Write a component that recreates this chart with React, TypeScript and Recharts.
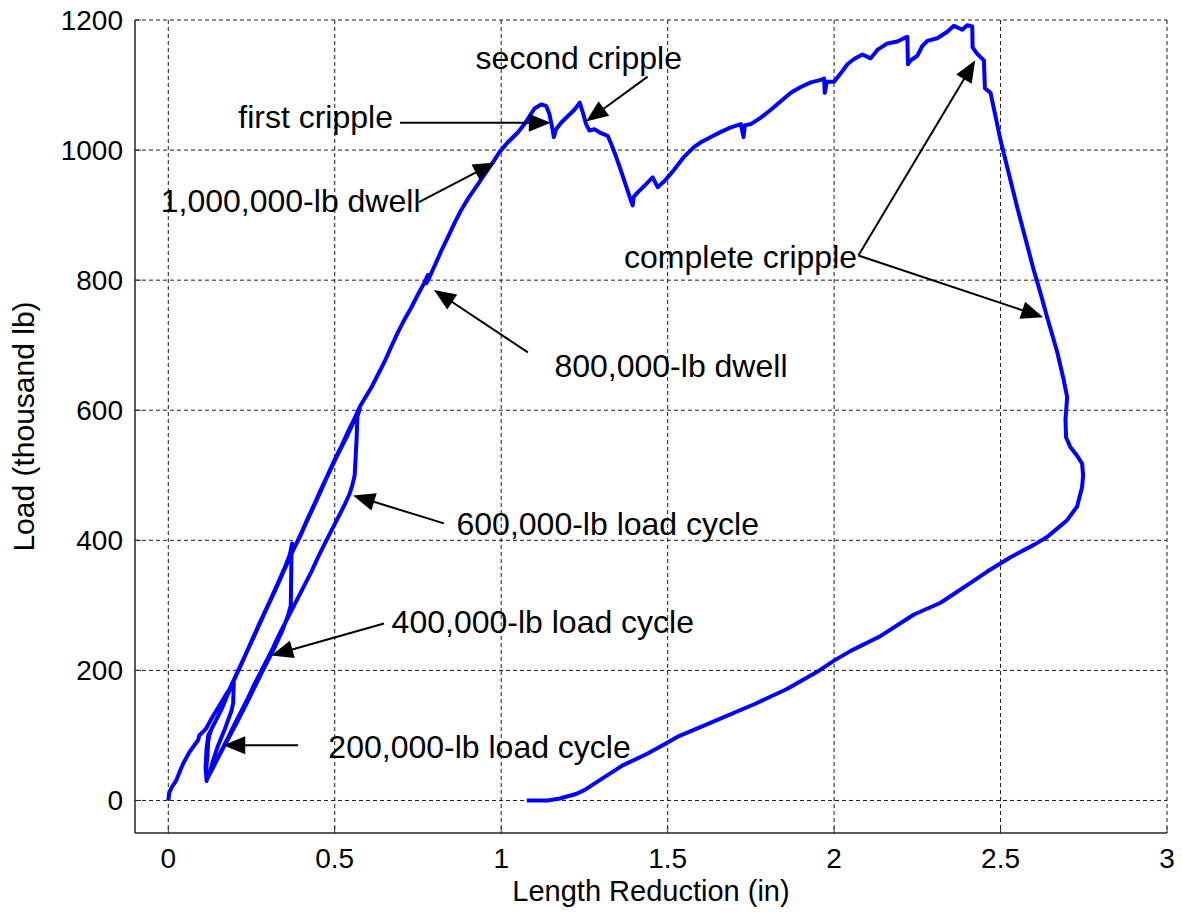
import React from 'react';
import {
  ComposedChart,
  Line,
  XAxis,
  YAxis,
  CartesianGrid,
  ReferenceLine,
  ReferenceDot,
} from 'recharts';

type Pt = [number, number];

// Length reduction (in), load (thousand lb) read from the test record, in recording order
const firstLoading: Pt[] = [
  [0, 0], [0.003, 12], [0.01, 20], [0.024, 31], [0.035, 45], [0.045, 57], [0.063, 74],
  [0.08, 86], [0.09, 93], [0.093, 100], [0.105, 106], [0.114, 111], [0.13, 126],
  [0.15, 143], [0.17, 160], [0.185, 172], [0.197, 180],
];
const firstUnloading: Pt[] = [
  [0.196, 172], [0.195, 150], [0.19, 138], [0.17, 110], [0.15, 85], [0.135, 62],
  [0.125, 45], [0.118, 35], [0.115, 30],
];
const secondLoading: Pt[] = [
  [0.113, 45], [0.118, 70], [0.12, 95], [0.13, 110], [0.15, 130], [0.17, 155],
  [0.19, 178], [0.21, 200], [0.23, 222], [0.25, 245], [0.27, 268], [0.29, 290],
  [0.31, 312], [0.33, 335], [0.35, 358], [0.365, 378], [0.372, 395],
];
const secondUnloading: Pt[] = [
  [0.37, 375], [0.369, 340], [0.368, 300], [0.36, 285], [0.34, 258], [0.32, 236],
  [0.3, 216], [0.28, 196], [0.26, 175], [0.24, 154], [0.22, 134], [0.2, 114],
  [0.18, 95], [0.16, 76], [0.14, 56], [0.125, 41], [0.115, 32],
];
const thirdLoading: Pt[] = [
  [0.112, 50], [0.115, 80], [0.12, 100], [0.135, 115], [0.155, 135], [0.175, 160],
  [0.195, 182], [0.215, 205], [0.235, 228], [0.255, 250], [0.275, 272], [0.295, 295],
  [0.315, 318], [0.335, 340], [0.355, 362], [0.375, 385], [0.395, 405], [0.415, 428],
  [0.435, 450], [0.455, 472], [0.475, 495], [0.495, 517], [0.515, 538], [0.535, 558],
  [0.555, 580], [0.57, 598], [0.575, 602],
];
const thirdUnloading: Pt[] = [
  [0.568, 590], [0.566, 560], [0.563, 530], [0.56, 500], [0.553, 485], [0.545, 472],
  [0.53, 455], [0.51, 435], [0.49, 415], [0.47, 395], [0.45, 374], [0.43, 352],
  [0.41, 332], [0.39, 312], [0.37, 292], [0.35, 272], [0.33, 252], [0.315, 235],
  [0.3, 220], [0.28, 200], [0.26, 180], [0.24, 158], [0.22, 138], [0.2, 118],
  [0.18, 97], [0.16, 77], [0.14, 56], [0.125, 42], [0.115, 33],
];
const finalLoading: Pt[] = [
  [0.113, 55], [0.118, 85], [0.125, 105], [0.14, 120], [0.16, 140], [0.18, 165],
  [0.2, 188], [0.22, 210], [0.24, 233], [0.26, 255], [0.28, 278], [0.3, 300],
  [0.32, 322], [0.34, 345], [0.36, 368], [0.38, 390], [0.4, 412], [0.42, 435],
  [0.44, 457], [0.46, 480], [0.48, 502], [0.5, 524], [0.52, 545], [0.54, 567],
  [0.56, 588], [0.575, 605], [0.59, 618], [0.61, 635], [0.63, 655], [0.65, 675],
  [0.67, 698], [0.69, 720], [0.71, 740], [0.73, 758], [0.75, 778], [0.77, 797],
  [0.78, 808], [0.775, 795], [0.785, 805], [0.8, 822], [0.82, 845], [0.84, 866],
  [0.86, 888], [0.88, 908], [0.9, 925], [0.92, 940], [0.94, 955], [0.96, 970],
  [0.98, 985], [0.995, 997], [1.0, 1000], [1.02, 1012], [1.05, 1027], [1.07, 1040],
  [1.085, 1052], [1.1, 1064], [1.12, 1070], [1.135, 1068],
];
const crippling: Pt[] = [
  [1.145, 1055], [1.155, 1030], [1.158, 1020], [1.165, 1032], [1.18, 1042],
  [1.2, 1052], [1.22, 1062], [1.236, 1073], [1.245, 1058], [1.255, 1040],
  [1.265, 1030], [1.28, 1032], [1.3, 1026], [1.32, 1022], [1.33, 1010],
  [1.345, 990], [1.36, 968], [1.375, 945], [1.39, 922], [1.395, 915],
  [1.398, 928], [1.41, 935], [1.43, 945], [1.455, 958], [1.465, 948], [1.47, 943],
  [1.49, 952], [1.52, 970], [1.55, 990], [1.58, 1005], [1.6, 1012], [1.63, 1020],
  [1.66, 1028], [1.69, 1035], [1.72, 1040], [1.728, 1020], [1.732, 1038],
  [1.75, 1040], [1.78, 1050], [1.81, 1062], [1.84, 1075], [1.87, 1088],
  [1.9, 1097], [1.93, 1104], [1.96, 1108], [1.97, 1110], [1.972, 1088],
  [1.978, 1105], [2.0, 1105], [2.02, 1118], [2.04, 1132], [2.06, 1140],
  [2.085, 1147], [2.11, 1141], [2.13, 1154], [2.16, 1164], [2.19, 1167],
  [2.21, 1172], [2.22, 1174], [2.222, 1132], [2.23, 1138], [2.25, 1145],
  [2.265, 1160], [2.28, 1168], [2.31, 1172], [2.34, 1182], [2.36, 1191],
  [2.385, 1185], [2.4, 1192], [2.415, 1190],
];
const completeCripple: Pt[] = [
  [2.416, 1158], [2.43, 1148], [2.45, 1138], [2.453, 1095], [2.47, 1088],
  [2.5, 1015], [2.55, 912], [2.6, 815], [2.62, 780], [2.64, 743], [2.67, 690],
  [2.69, 646], [2.7, 620], [2.695, 585], [2.697, 558], [2.71, 543], [2.73, 530],
  [2.745, 518], [2.748, 500], [2.745, 482], [2.73, 452], [2.7, 431], [2.67, 418],
  [2.64, 405], [2.6, 393],
];
const finalUnloading: Pt[] = [
  [2.53, 374], [2.46, 352], [2.42, 338], [2.32, 304], [2.24, 286], [2.14, 253],
  [2.05, 230], [2.0, 215], [1.956, 200], [1.857, 171], [1.76, 148], [1.632, 120],
  [1.534, 99], [1.5, 89], [1.436, 71], [1.365, 54], [1.31, 36], [1.25, 16],
  [1.225, 10], [1.176, 3], [1.14, 0], [1.077, 0],
];

const xTicks = [0, 0.5, 1, 1.5, 2, 2.5, 3];
const yTicks = [0, 200, 400, 600, 800, 1000, 1200];

// annotation texts: label, centre x, baseline y (data units)
const noteLabels: { text: string; x: number; y: number }[] = [
  { text: 'second cripple', x: 1.233, y: 1125 },
  { text: 'first cripple', x: 0.4425, y: 1034 },
  { text: '1,000,000-lb dwell', x: 0.3675, y: 905 },
  { text: '800,000-lb dwell', x: 1.51, y: 651 },
  { text: '600,000-lb load cycle', x: 1.32, y: 408 },
  { text: '400,000-lb load cycle', x: 1.125, y: 258 },
  { text: '200,000-lb load cycle', x: 0.935, y: 66 },
  { text: 'complete cripple', x: 1.719, y: 818 },
];
// annotation arrows: from -> tip (data units)
const noteArrows: { from: Pt; to: Pt }[] = [
  { from: [1.44, 1113], to: [1.255, 1044] },
  { from: [0.696, 1042], to: [1.149, 1042] },
  { from: [0.753, 920], to: [0.982, 981] },
  { from: [1.08, 689], to: [0.798, 785] },
  { from: [0.828, 426], to: [0.555, 469] },
  { from: [0.648, 272], to: [0.309, 223] },
  { from: [0.39, 85], to: [0.165, 85] },
  { from: [2.073, 838], to: [2.424, 1138] },
  { from: [2.073, 838], to: [2.628, 743] },
];

const curve = [
  ...firstLoading,
  ...firstUnloading,
  ...secondLoading,
  ...secondUnloading,
  ...thirdLoading,
  ...thirdUnloading,
  ...finalLoading,
  ...crippling,
  ...completeCripple,
  ...finalUnloading,
].map(([x, y]) => ({ x, y }));

const FONT = "Arial, 'Liberation Sans', Helvetica, sans-serif";
const FRAME = '#262626';

const ArrowShape = (props: any) => {
  const x1 = Number(props.x1);
  const y1 = Number(props.y1);
  const x2 = Number(props.x2);
  const y2 = Number(props.y2);
  const dx = x2 - x1;
  const dy = y2 - y1;
  const len = Math.hypot(dx, dy) || 1;
  const ux = dx / len;
  const uy = dy / len;
  const headLen = 22;
  const headW = 9;
  const bx = x2 - ux * headLen;
  const by = y2 - uy * headLen;
  const px = -uy;
  const py = ux;
  return (
    <g>
      <line x1={x1} y1={y1} x2={bx + ux * 2} y2={by + uy * 2} stroke="#000" strokeWidth={2} />
      <polygon
        points={`${x2},${y2} ${bx + px * headW},${by + py * headW} ${bx - px * headW},${by - py * headW}`}
        fill="#000"
      />
    </g>
  );
};

const makeLabelShape = (text: string) => (props: any) => (
  <text
    x={props.cx}
    y={props.cy}
    textAnchor="middle"
    fontSize={32}
    fontFamily={FONT}
    fill="#000"
  >
    {text}
  </text>
);

const BottomTick = (props: any) => {
  const { x, y, payload } = props;
  return (
    <g>
      <line x1={x} x2={x} y1={y - 15} y2={y - 21} stroke={FRAME} strokeWidth={1} />
      <text x={x} y={y} dy="0.71em" textAnchor="middle" fontSize={28} fontFamily={FONT} fill="#000">
        {String(payload.value)}
      </text>
    </g>
  );
};

const LeftTick = (props: any) => {
  const { x, y, payload } = props;
  return (
    <g>
      <line x1={x + 12} x2={x + 18} y1={y} y2={y} stroke={FRAME} strokeWidth={1} />
      <text x={x} y={y} dy="0.355em" textAnchor="end" fontSize={28} fontFamily={FONT} fill="#000">
        {String(payload.value)}
      </text>
    </g>
  );
};

const TopTick = (props: any) => {
  const { x, y } = props;
  return <line x1={x} x2={x} y1={y} y2={y + 6} stroke={FRAME} strokeWidth={1} />;
};

const RightTick = (props: any) => {
  const { x, y } = props;
  return <line x1={x} x2={x - 6} y1={y} y2={y} stroke={FRAME} strokeWidth={1} />;
};

export default function App() {
  return (
    <div style={{ width: 1174, height: 909, background: '#fff', fontFamily: FONT }}>
      <ComposedChart
        width={1174}
        height={909}
        data={curve}
        margin={{ top: 12, right: 15, bottom: 0, left: 0 }}
      >
        <CartesianGrid
          stroke="#1a1a1a"
          strokeDasharray="4 3"
          strokeWidth={1}
          horizontalValues={yTicks}
          verticalValues={xTicks}
        />
        <XAxis
          dataKey="x"
          type="number"
          domain={[-0.1, 3]}
          ticks={xTicks}
          allowDataOverflow
          height={84}
          tickSize={0}
          tickMargin={15}
          tickLine={false}
          axisLine={{ stroke: FRAME, strokeWidth: 1.5 }}
          tick={<BottomTick />}
          label={{
            value: 'Length Reduction (in)',
            position: 'insideBottom',
            offset: 16,
            style: { fontSize: 29, fill: '#000', fontFamily: FONT },
          }}
        />
        <XAxis
          xAxisId="top"
          orientation="top"
          type="number"
          domain={[-0.1, 3]}
          ticks={xTicks}
          allowDataOverflow
          height={0}
          tickSize={0}
          tickMargin={0}
          tickLine={false}
          axisLine={{ stroke: FRAME, strokeWidth: 1.5 }}
          tick={<TopTick />}
        />
        <YAxis
          type="number"
          domain={[-50, 1200]}
          ticks={yTicks}
          allowDataOverflow
          width={127}
          tickSize={0}
          tickMargin={12}
          tickLine={false}
          axisLine={{ stroke: FRAME, strokeWidth: 1.5 }}
          tick={<LeftTick />}
          label={{
            value: 'Load (thousand lb)',
            angle: -90,
            position: 'insideLeft',
            offset: 15,
            style: { fontSize: 30, fill: '#000', textAnchor: 'middle', fontFamily: FONT },
          }}
        />
        <YAxis
          yAxisId="right"
          orientation="right"
          type="number"
          domain={[-50, 1200]}
          ticks={yTicks}
          allowDataOverflow
          width={0}
          tickSize={0}
          tickMargin={0}
          tickLine={false}
          axisLine={{ stroke: FRAME, strokeWidth: 1.5 }}
          tick={<RightTick />}
        />
        <Line
          dataKey="y"
          type="linear"
          stroke="#0000ff"
          strokeWidth={4}
          strokeLinejoin="round"
          dot={false}
          activeDot={false}
          isAnimationActive={false}
        />
        {noteArrows.map((a, i) => (
          <ReferenceLine
            key={`arrow-${i}`}
            segment={[
              { x: a.from[0], y: a.from[1] },
              { x: a.to[0], y: a.to[1] },
            ]}
            ifOverflow="visible"
            shape={ArrowShape}
          />
        ))}
        {noteLabels.map((l, i) => (
          <ReferenceDot
            key={`label-${i}`}
            x={l.x}
            y={l.y}
            r={0}
            ifOverflow="visible"
            shape={makeLabelShape(l.text)}
          />
        ))}
      </ComposedChart>
    </div>
  );
}
